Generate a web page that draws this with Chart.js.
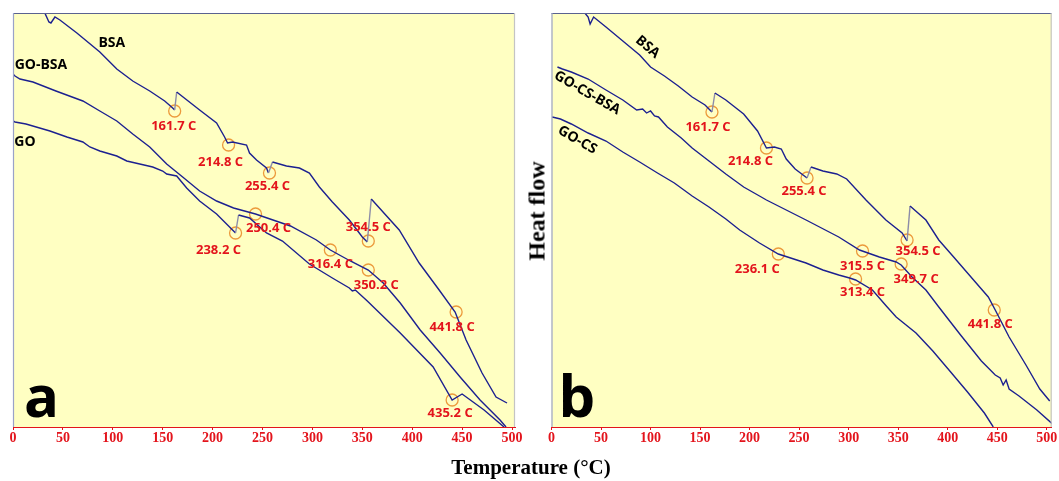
<!DOCTYPE html>
<html>
<head>
<meta charset="utf-8">
<script src="https://cdn.jsdelivr.net/npm/chart.js@4.4.0/dist/chart.umd.min.js"></script>
<style>
    body { margin: 0; background: #fff; width: 1059px; height: 481px; position: relative; overflow: hidden; }
    canvas { position: absolute; top: 0; }
    #chartA { left: 0; }
    #chartB { left: 538px; }
    .axisTitle { position: absolute; font-family: 'Liberation Serif', 'Times New Roman', serif; font-weight: 700; color: #000; white-space: nowrap; }
    #yTitle { left: 537px; top: 211px; font-size: 24px; transform: translate(-50%, -50%) rotate(-90deg); }
    #xTitle { left: 531px; top: 467px; font-size: 21px; transform: translate(-50%, -50%); }
</style>
</head>
<body>
<canvas id="chartA" width="530" height="460"></canvas>
<canvas id="chartB" width="521" height="460"></canvas>
<div class="axisTitle" id="yTitle">Heat flow</div>
<div class="axisTitle" id="xTitle">Temperature (°C)</div>
<script>
// tick labels (°C)
const tempTicks = [0, 50, 100, 150, 200, 250, 300, 350, 400, 450, 500];

// ---- panel a ----
const bsaA_T  = [31, 36, 38, 42, 47, 64, 87, 104, 120, 137, 152, 160, 162, 164, 187, 204, 212, 215, 220, 234, 237, 244, 254, 256, 260, 274, 287, 297, 307, 320, 337, 350, 355, 359, 387, 407, 427, 443, 454, 470, 484, 495];
const bsaA_HF = [416, 405, 404, 410, 407, 394, 375, 358, 346, 336, 326, 319, 317, 335, 317, 304, 290, 284, 285, 282, 274, 267, 259, 254, 265, 261, 259, 254, 240, 225, 207, 190, 185, 228, 197, 164, 137, 115, 87, 54, 30, 24];

const goBsaA_T  = [0, 2, 7, 20, 43, 70, 87, 104, 120, 137, 154, 170, 187, 204, 221, 243, 278, 304, 318, 338, 356, 371, 388, 408, 428, 448, 468, 488, 494];
const goBsaA_HF = [353, 351, 348, 345, 336, 326, 316, 306, 293, 280, 263, 250, 236, 226, 219, 213, 201, 187, 177, 166, 157, 144, 124, 97, 74, 50, 27, 7, 0];

const goA_T  = [0, 2, 13, 37, 54, 70, 77, 87, 104, 114, 127, 140, 150, 154, 164, 174, 187, 204, 221, 223, 226, 237, 254, 270, 297, 320, 337, 340, 343, 355, 388, 421, 440, 450, 472, 492];
const goA_HF = [306, 305, 303, 296, 290, 285, 280, 276, 271, 266, 263, 260, 256, 253, 251, 239, 226, 213, 196, 194, 212, 209, 194, 186, 163, 149, 139, 136, 137, 126, 94, 60, 27, 33, 17, 0];

const peaksA_T   = [162, 216, 257, 356, 243, 223, 318, 356, 444, 440];
const peaksA_HF  = [316, 282, 254, 186, 213, 194, 177, 157, 115, 27];
const peaksA_lbl = ['161.7 C', '214.8 C', '255.4 C', '354.5 C', '250.4 C', '238.2 C', '316.4 C', '350.2 C', '441.8 C', '435.2 C'];

// ---- panel b ----
const bsaB_T  = [32, 37, 39, 42.5, 55, 72, 89, 100, 114, 128, 142, 155, 162, 165, 176, 194, 208, 217, 225, 232, 237, 246, 258, 262, 274, 288, 298, 317.5, 337.6, 354, 359, 362, 378, 391, 406, 427, 441, 448, 462, 479, 493, 503];
const bsaB_HF = [416, 410, 403, 410, 400, 386, 372, 360, 351, 341, 330, 322, 315, 334, 327, 313, 296, 279, 280, 278, 268, 258, 249, 260, 256, 253, 248, 227, 207, 194, 186, 221, 207, 187, 170, 146, 130, 117, 90, 62, 38, 26];

const goCsBsaB_T  = [6, 11, 20, 37, 55, 72, 86, 92, 96, 100, 104, 108, 117, 131, 142, 159, 176, 194, 210, 217, 257, 290, 311, 331, 348, 353, 364, 378, 391, 413, 434, 448, 453, 456, 459, 462, 472, 490, 507];
const goCsBsaB_HF = [360, 358, 355, 348, 337, 327, 317, 318, 314, 316, 311, 310, 300, 289, 279, 266, 253, 240, 231, 227, 207, 190, 177, 170, 165, 162, 150, 137, 120, 92, 66, 52, 49, 42, 47, 38, 31, 17, 2];

const goCsB_T  = [0.7, 9, 20, 37, 55, 72, 89, 107, 124, 142, 159, 176, 190, 210, 229, 257, 274, 290, 301, 307, 324, 338, 348, 368, 385, 403, 420, 437, 446];
const goCsB_HF = [310, 308, 303, 294, 286, 275, 265, 254, 244, 231, 220, 208, 197, 184, 173, 164, 157, 152, 149, 147, 137, 121, 110, 94, 76, 55, 35, 14, 0];

const peaksB_T   = [162, 217, 258, 359, 314, 353, 229, 307, 447];
const peaksB_HF  = [315, 279, 249, 187, 176, 163, 173, 148, 117];
const peaksB_lbl = ['161.7 C', '214.8 C', '255.4 C', '354.5 C', '315.5 C', '349.7 C', '236.1 C', '313.4 C', '441.8 C'];

const LINE = '#1c2090';
const RED = '#e3141c';
const pts = (xs, ys) => xs.map((x, i) => ({ x: x, y: ys[i] }));

function curve(xs, ys) {
    return {
        type: 'line',
        data: pts(xs, ys),
        borderColor: LINE,
        borderWidth: 1.4,
        pointRadius: 0,
        tension: 0,
        segment: {
            // the sharp upward spikes are drawn lighter, as in the original
            borderColor: ctx => (ctx.p0.parsed.y - ctx.p1.parsed.y < -8 ? '#8c8ca8' : undefined)
        }
    };
}

// draws yellow plot background, frame, panel letter, curve names and peak labels
const panelDeco = {
    id: 'panelDeco',
    beforeDraw(chart) {
        const { ctx, chartArea: a } = chart;
        ctx.save();
        ctx.fillStyle = '#ffffc2';
        ctx.fillRect(a.left, a.top, a.right - a.left, a.bottom - a.top);
        ctx.restore();
    },
    afterDatasetsDraw(chart, args, opts) {
        const { ctx, chartArea: a, scales: { x, y } } = chart;
        ctx.save();
        ctx.lineWidth = 1.2;
        ctx.strokeStyle = '#5a6290';
        ctx.beginPath(); ctx.moveTo(a.left, a.top + 0.5); ctx.lineTo(a.right, a.top + 0.5); ctx.stroke();
        ctx.strokeStyle = '#9aa2c8';
        ctx.beginPath(); ctx.moveTo(a.left + 0.5, a.top); ctx.lineTo(a.left + 0.5, a.bottom); ctx.stroke();
        ctx.strokeStyle = '#c4c4c4';
        ctx.beginPath(); ctx.moveTo(a.right - 0.5, a.top); ctx.lineTo(a.right - 0.5, a.bottom); ctx.stroke();

        // peak labels
        ctx.fillStyle = RED;
        ctx.font = "700 13px 'Open Sans', 'Liberation Sans', sans-serif";
        ctx.textAlign = 'center';
        ctx.textBaseline = 'middle';
        opts.peaks.T.forEach((t, i) => {
            const off = opts.labelOffsets[i];
            ctx.fillText(opts.peaks.lbl[i], x.getPixelForValue(t) + off[0], y.getPixelForValue(opts.peaks.HF[i]) + off[1]);
        });

        // curve names
        ctx.fillStyle = '#000';
        ctx.font = "700 14px 'Open Sans', 'Liberation Sans', sans-serif";
        opts.names.forEach(n => {
            ctx.save();
            ctx.translate(x.getPixelForValue(n.T), y.getPixelForValue(n.HF));
            ctx.rotate(n.rot * Math.PI / 180);
            ctx.fillText(n.text, 0, 0);
            ctx.restore();
        });

        // panel letter
        ctx.font = "700 58px 'Open Sans', 'Liberation Sans', sans-serif";
        ctx.textAlign = 'left';
        ctx.textBaseline = 'alphabetic';
        ctx.fillText(opts.letter, a.left + opts.letterDx, a.bottom - 10);
        ctx.restore();
    }
};

function makePanel(id, series, peaks, deco, xMax, pad) {
    const datasets = series.map(s => curve(s[0], s[1]));
    datasets.push({
        type: 'scatter',
        data: pts(peaks.T, peaks.HF),
        pointStyle: 'circle',
        pointRadius: 6,
        borderColor: '#ec9a3c',
        backgroundColor: 'rgba(0,0,0,0)',
        borderWidth: 1.3
    });
    deco.peaks = peaks;
    new Chart(document.getElementById(id), {
        data: { datasets: datasets },
        options: {
            responsive: false,
            animation: false,
            layout: { padding: pad },
            plugins: { legend: { display: false }, tooltip: { enabled: false }, panelDeco: deco },
            scales: {
                x: {
                    type: 'linear',
                    min: 0,
                    max: xMax,
                    afterBuildTicks: axis => { axis.ticks = tempTicks.map(v => ({ value: v })); },
                    afterFit: axis => { axis.height = 33; },
                    border: { display: true, color: RED, width: 1 },
                    grid: { display: true, drawOnChartArea: false, drawTicks: true, tickLength: 3, color: RED },
                    ticks: {
                        autoSkip: false,
                        maxRotation: 0,
                        padding: 0,
                        color: RED,
                        font: { family: "'Liberation Serif', 'Times New Roman', serif", size: 14, weight: 'bold' }
                    }
                },
                y: { display: false, min: 0, max: 414 }
            }
        },
        plugins: [panelDeco]
    });
}

makePanel('chartA',
    [[bsaA_T, bsaA_HF], [goBsaA_T, goBsaA_HF], [goA_T, goA_HF]],
    { T: peaksA_T, HF: peaksA_HF, lbl: peaksA_lbl },
    {
        letter: 'a',
        letterDx: 11,
        labelOffsets: [[-1, 15], [-8, 17], [-2, 13], [0, -14], [13, 14], [-17, 17], [0, 14], [8, 15], [-4, 15], [-2, 13]],
        names: [
            { text: 'BSA', T: 99, HF: 384, rot: 0 },
            { text: 'GO-BSA', T: 28, HF: 362, rot: 0 },
            { text: 'GO', T: 12, HF: 285, rot: 0 }
        ]
    },
    503, { left: 13, top: 13, right: 15, bottom: 0 });

makePanel('chartB',
    [[bsaB_T, bsaB_HF], [goCsBsaB_T, goCsBsaB_HF], [goCsB_T, goCsB_HF]],
    { T: peaksB_T, HF: peaksB_HF, lbl: peaksB_lbl },
    {
        letter: 'b',
        letterDx: 7,
        labelOffsets: [[-4, 15], [-16, 13], [-3, 13], [11, 11], [0, 15], [15, 15], [-21, 15], [7, 13], [-4, 14]],
        names: [
            { text: 'BSA', T: 97, HF: 380, rot: 40 },
            { text: 'GO-CS-BSA', T: 36, HF: 334, rot: 30 },
            { text: 'GO-CS', T: 26, HF: 287, rot: 30 }
        ]
    },
    505, { left: 13.5, top: 13, right: 6, bottom: 0 });
</script>
</body>
</html>
